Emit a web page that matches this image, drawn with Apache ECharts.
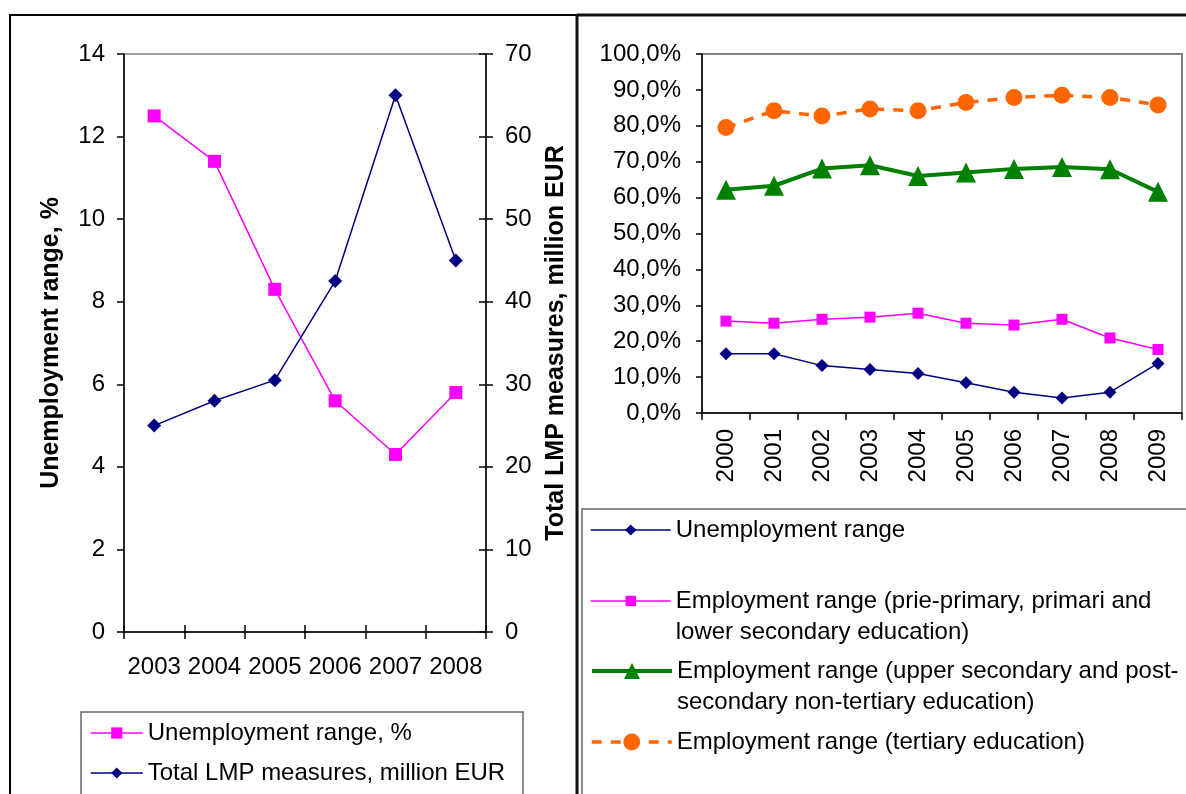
<!DOCTYPE html>
<html><head><meta charset="utf-8">
<script src="https://cdn.jsdelivr.net/npm/echarts@6/dist/echarts.min.js"></script>
<style>html,body{margin:0;padding:0;background:#fff}#c{width:1186px;height:794px}</style>
</head><body><div id="c"></div>
<script>
// ---- Left chart data ----
const leftYears = ['2003', '2004', '2005', '2006', '2007', '2008'];
const unemploymentPct = [12.5, 11.4, 8.3, 5.6, 4.3, 5.8];
const lmpMillionEur = [25, 28, 30.5, 42.5, 65, 45];
const leftTicks = [0, 2, 4, 6, 8, 10, 12, 14];
const lmpTicks = [0, 10, 20, 30, 40, 50, 60, 70];
const leftNames = ['Unemployment range, %', 'Total LMP measures, million EUR'];
const leftAxisTitles = ['Unemployment range, %', 'Total LMP measures, million EUR'];

// ---- Right chart data ----
const rightYears = ['2000', '2001', '2002', '2003', '2004', '2005', '2006', '2007', '2008', '2009'];
const unemploymentRange = [16.5, 16.5, 13.2, 12.1, 11.0, 8.4, 5.8, 4.2, 5.8, 13.8];
const empLowerSecondary = [25.6, 25.0, 26.1, 26.7, 27.8, 25.0, 24.5, 26.1, 20.9, 17.7];
const empUpperSecondary = [62.2, 63.3, 68.1, 69.0, 66.0, 67.0, 68.0, 68.5, 67.9, 61.6];
const empTertiary = [79.5, 84.2, 82.7, 84.7, 84.2, 86.5, 87.9, 88.5, 87.9, 85.8];
const pctTicks = [0, 10, 20, 30, 40, 50, 60, 70, 80, 90, 100];
const rightNames = [
  'Unemployment range',
  'Employment range (prie-primary, primari and\nlower secondary education)',
  'Employment range (upper secondary and post-\nsecondary non-tertiary education)',
  'Employment range (tertiary education)'
];

const FONT = '"Liberation Sans", Arial, sans-serif';
const NAVY = '#000080', MAGENTA = '#FF00FF', GREEN = '#008000', ORANGE = '#FF6600';

const chart = echarts.init(document.getElementById('c'), null, {renderer: 'canvas'});

function lbl(extra) {
  return Object.assign({fontSize: 24, fontFamily: FONT, color: '#000'}, extra || {});
}
const blackLine = {show: true, onZero: false, lineStyle: {color: '#000', width: 1.5}};

const rightLegendTops = [514.5, 554.5, 624.5, 726.5];
const rightLegendIconH = [14, 13, 20, 21];
const rightLegendLineW = [1.5, 1.5, 4, 3.5];
const rightLegends = rightNames.map((n, i) => ({
  data: [n], orient: 'vertical', left: 590, top: rightLegendTops[i],
  itemWidth: 80, itemHeight: rightLegendIconH[i], padding: 0, itemGap: 0,
  selectedMode: false,
  lineStyle: {width: rightLegendLineW[i]},
  formatter: (i === 1 || i === 2) ? (name => ' \n' + name) : (name => name),
  textStyle: lbl({lineHeight: 31})
}));

const option = {
  animation: false,
  textStyle: {fontFamily: FONT},
  grid: [
    {left: 124, top: 54, width: 362, height: 578, show: true, borderColor: '#808080', borderWidth: 1.5},
    {left: 702, top: 54, width: 480, height: 359, show: true, borderColor: '#808080', borderWidth: 2}
  ],
  xAxis: [
    {gridIndex: 0, type: 'category', data: leftYears, boundaryGap: true,
     axisLine: blackLine, axisTick: {show: true, length: 7, lineStyle: {color: '#000', width: 1.5}},
     axisLabel: lbl({margin: 23, interval: 0}), splitLine: {show: false}},
    {gridIndex: 0, type: 'category', data: leftYears, boundaryGap: true, position: 'bottom',
     axisLine: {show: false}, axisTick: {show: true, inside: true, length: 7, lineStyle: {color: '#000', width: 1.5}},
     axisLabel: {show: false}, splitLine: {show: false}},
    {gridIndex: 1, type: 'category', data: rightYears, boundaryGap: true,
     axisLine: blackLine, axisTick: {show: true, length: 7, lineStyle: {color: '#000', width: 1.5}},
     axisLabel: lbl({margin: 16, interval: 0, rotate: 90}), splitLine: {show: false}}
  ],
  yAxis: [
    {gridIndex: 0, type: 'value', position: 'left',
     min: leftTicks[0], max: leftTicks[leftTicks.length - 1], interval: leftTicks[1] - leftTicks[0],
     axisLine: blackLine, axisTick: {show: true, length: 7, lineStyle: {color: '#000', width: 1.5}},
     axisLabel: lbl({margin: 19}), splitLine: {show: false},
     name: leftAxisTitles[0], nameLocation: 'middle', nameRotate: 90, nameGap: 60,
     nameTextStyle: lbl({fontSize: 25, fontWeight: 'bold'})},
    {gridIndex: 0, type: 'value', position: 'right',
     min: lmpTicks[0], max: lmpTicks[lmpTicks.length - 1], interval: lmpTicks[1] - lmpTicks[0],
     axisLine: blackLine, axisTick: {show: true, length: 7, lineStyle: {color: '#000', width: 1.5}},
     axisLabel: lbl({margin: 19}), splitLine: {show: false},
     name: leftAxisTitles[1], nameLocation: 'middle', nameRotate: 90, nameGap: 58,
     nameTextStyle: lbl({fontSize: 25, fontWeight: 'bold'})},
    {gridIndex: 0, type: 'value', position: 'right',
     min: lmpTicks[0], max: lmpTicks[lmpTicks.length - 1], interval: lmpTicks[1] - lmpTicks[0],
     axisLine: {show: false}, axisTick: {show: true, inside: true, length: 7, lineStyle: {color: '#000', width: 1.5}},
     axisLabel: {show: false}, splitLine: {show: false}},
    {gridIndex: 1, type: 'value', position: 'left',
     min: pctTicks[0], max: pctTicks[pctTicks.length - 1], interval: pctTicks[1] - pctTicks[0],
     axisLine: blackLine, axisTick: {show: true, length: 6, lineStyle: {color: '#000', width: 1.5}},
     axisLabel: lbl({margin: 21, formatter: v => v.toFixed(1).replace('.', ',') + '%'}),
     splitLine: {show: false}}
  ],
  legend: [
    {data: leftNames, orient: 'vertical', left: 90, top: 721, itemWidth: 52, itemHeight: 14,
     itemGap: 16, padding: 0, selectedMode: false, lineStyle: {width: 1.5}, textStyle: lbl({lineHeight: 24})}
  ].concat(rightLegends),
  series: [
    {name: leftNames[0], type: 'line', xAxisIndex: 0, yAxisIndex: 0, data: unemploymentPct,
     symbol: 'rect', symbolSize: 13, showAllSymbol: true, itemStyle: {color: MAGENTA},
     lineStyle: {color: MAGENTA, width: 1.5}, emphasis: {disabled: true}},
    {name: leftNames[1], type: 'line', xAxisIndex: 0, yAxisIndex: 1, data: lmpMillionEur,
     symbol: 'diamond', symbolSize: 14, showAllSymbol: true, itemStyle: {color: NAVY},
     lineStyle: {color: NAVY, width: 1.5}, emphasis: {disabled: true}},
    {name: rightNames[0], type: 'line', xAxisIndex: 2, yAxisIndex: 3, data: unemploymentRange,
     symbol: 'diamond', symbolSize: 13, showAllSymbol: true, itemStyle: {color: NAVY},
     lineStyle: {color: NAVY, width: 1.5}, emphasis: {disabled: true}},
    {name: rightNames[1], type: 'line', xAxisIndex: 2, yAxisIndex: 3, data: empLowerSecondary,
     symbol: 'rect', symbolSize: 11, showAllSymbol: true, itemStyle: {color: MAGENTA},
     lineStyle: {color: MAGENTA, width: 1.5}, emphasis: {disabled: true}},
    {name: rightNames[2], type: 'line', xAxisIndex: 2, yAxisIndex: 3, data: empUpperSecondary,
     symbol: 'triangle', symbolSize: 20, showAllSymbol: true, itemStyle: {color: GREEN},
     lineStyle: {color: GREEN, width: 4}, emphasis: {disabled: true}},
    {name: rightNames[3], type: 'line', xAxisIndex: 2, yAxisIndex: 3, data: empTertiary,
     symbol: 'circle', symbolSize: 17, showAllSymbol: true, itemStyle: {color: ORANGE},
     lineStyle: {color: ORANGE, width: 3.5, type: [10, 9]}, emphasis: {disabled: true}}
  ],
  graphic: [
    {type: 'line', shape: {x1: 10, y1: 15, x2: 10, y2: 800}, style: {stroke: '#000', lineWidth: 2}},
    {type: 'line', shape: {x1: 9, y1: 15, x2: 577, y2: 15}, style: {stroke: '#000', lineWidth: 2}},
    {type: 'line', shape: {x1: 577, y1: 15, x2: 1190, y2: 15}, style: {stroke: '#111', lineWidth: 3}},
    {type: 'line', shape: {x1: 577, y1: 14, x2: 577, y2: 800}, style: {stroke: '#111', lineWidth: 3}},
    {type: 'rect', shape: {x: 81, y: 712, width: 442, height: 120}, style: {fill: 'none', stroke: '#666', lineWidth: 1.5}},
    {type: 'rect', shape: {x: 582, y: 509, width: 640, height: 320}, style: {fill: 'none', stroke: '#666', lineWidth: 1.5}}
  ]
};
chart.setOption(option);
</script>
</body></html>
